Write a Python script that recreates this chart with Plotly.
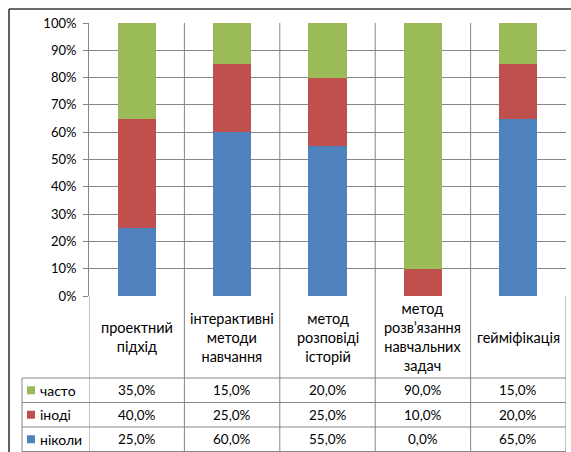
import plotly.graph_objects as go

# ---- data ----
categories = ["проектний підхід", "інтерактивні методи навчання", "метод розповіді історій",
              "метод розв’язання навчальних задач", "гейміфікація"]
category_labels = ["проектний<br>підхід", "інтерактивні<br>методи<br>навчання",
                   "метод<br>розповіді<br>історій",
                   "метод<br>розв’язання<br>навчальних<br>задач", "гейміфікація"]
series_names = ["часто", "іноді", "ніколи"]
chasto = [35.0, 15.0, 20.0, 90.0, 15.0]
inodi = [40.0, 25.0, 25.0, 10.0, 20.0]
nikoly = [25.0, 60.0, 55.0, 0.0, 65.0]
colors = {"часто": "#9BBB59", "іноді": "#C0504D", "ніколи": "#4F81BD"}
y_ticks = [0, 0.1, 0.2, 0.3, 0.4, 0.5, 0.6, 0.7, 0.8, 0.9, 1.0]

values = {"часто": chasto, "іноді": inodi, "ніколи": nikoly}

W, H = 571, 452
FONT = "Lato"
GRID = "#868686"

# layout geometry in pixels
plot_left, plot_right = 89, 566
plot_top, plot_bottom = 23, 296
header_bottom = 378
row_h = 24.5
legend_left = 22


def px(x):
    return x / W


def py(y):
    return (H - y) / H


fig = go.Figure()
for name in ["ніколи", "іноді", "часто"]:
    fig.add_trace(go.Bar(
        x=categories, y=[v / 100 for v in values[name]], name=name,
        marker=dict(color=colors[name], line=dict(width=0)),
        width=0.4, showlegend=False, hoverinfo="skip"))

shapes = []
n = len(categories)
# vertical gridlines in plot area
for i in range(n - 1):
    shapes.append(dict(type="line", xref="x", yref="y", x0=i + 0.5, x1=i + 0.5, y0=0, y1=1,
                       line=dict(color=GRID, width=1), layer="below"))
# vertical table lines
for i in range(n + 1):
    shapes.append(dict(type="line", xref="x", yref="paper", x0=i - 0.5, x1=i - 0.5,
                       y0=py(plot_bottom), y1=py(H + 2), line=dict(color=GRID, width=1)))
shapes.append(dict(type="line", xref="paper", yref="paper", x0=px(legend_left), x1=px(legend_left),
                   y0=py(header_bottom), y1=py(H + 2), line=dict(color=GRID, width=1)))
# horizontal table lines
for r in range(len(series_names) + 1):
    yy = header_bottom + r * row_h
    shapes.append(dict(type="line", xref="paper", yref="paper", x0=px(legend_left), x1=px(plot_right),
                       y0=py(yy), y1=py(yy), line=dict(color=GRID, width=1)))
# outer chart border (top and left)
shapes.append(dict(type="line", xref="paper", yref="paper", x0=px(9), x1=px(W + 2),
                   y0=py(9), y1=py(9), line=dict(color="#3a3a3a", width=1.6)))
shapes.append(dict(type="line", xref="paper", yref="paper", x0=px(9), x1=px(9),
                   y0=py(9), y1=py(H + 2), line=dict(color="#3a3a3a", width=1.6)))

annotations = []
# header labels
for c, lab in zip(categories, category_labels):
    annotations.append(dict(x=c, xref="x", y=py((plot_bottom + header_bottom) / 2), yref="paper",
                            text=lab, showarrow=False, xanchor="center", yanchor="middle",
                            font=dict(family=FONT, size=14.5, color="#000000")))
# rows
for r, name in enumerate(series_names):
    yc = header_bottom + (r + 0.5) * row_h
    shapes.append(dict(type="rect", xref="paper", yref="paper", x0=px(27), x1=px(35),
                       y0=py(yc - 4), y1=py(yc + 4), fillcolor=colors[name],
                       line=dict(color="#ffffff", width=0)))
    annotations.append(dict(x=px(38), xref="paper", y=py(yc), yref="paper", text=name,
                            showarrow=False, xanchor="left", yanchor="middle",
                            font=dict(family=FONT, size=14, color="#000000")))
    for c, v in zip(categories, values[name]):
        annotations.append(dict(x=c, xref="x", y=py(yc), yref="paper",
                                text=f"{v:.1f}%".replace(".", ","), showarrow=False,
                                xanchor="center", yanchor="middle",
                                font=dict(family=FONT, size=13.5, color="#000000")))

fig.update_layout(
    width=W, height=H, margin=dict(l=0, r=0, t=0, b=0, autoexpand=False),
    paper_bgcolor="white", plot_bgcolor="white",
    barmode="stack", showlegend=False,
    font=dict(family=FONT, size=13, color="#000000"),
    xaxis=dict(domain=[px(plot_left), px(plot_right)], type="category",
               categoryorder="array", categoryarray=categories, range=[-0.5, n - 0.5],
               showticklabels=False, ticks="", showgrid=False, zeroline=False,
               showline=False, fixedrange=True, automargin=False),
    yaxis=dict(domain=[py(plot_bottom), py(plot_top)], range=[0, 1], tickvals=y_ticks,
               tickformat=".0%", showgrid=True, gridcolor=GRID, gridwidth=1,
               ticks="outside", ticklen=5, tickcolor=GRID, showline=True, linecolor=GRID,
               linewidth=1, zeroline=False, tickfont=dict(family=FONT, size=13, color="#000000"),
               ticklabelstandoff=4, automargin=False),
    shapes=shapes, annotations=annotations,
)

fig.write_html("out.html")
